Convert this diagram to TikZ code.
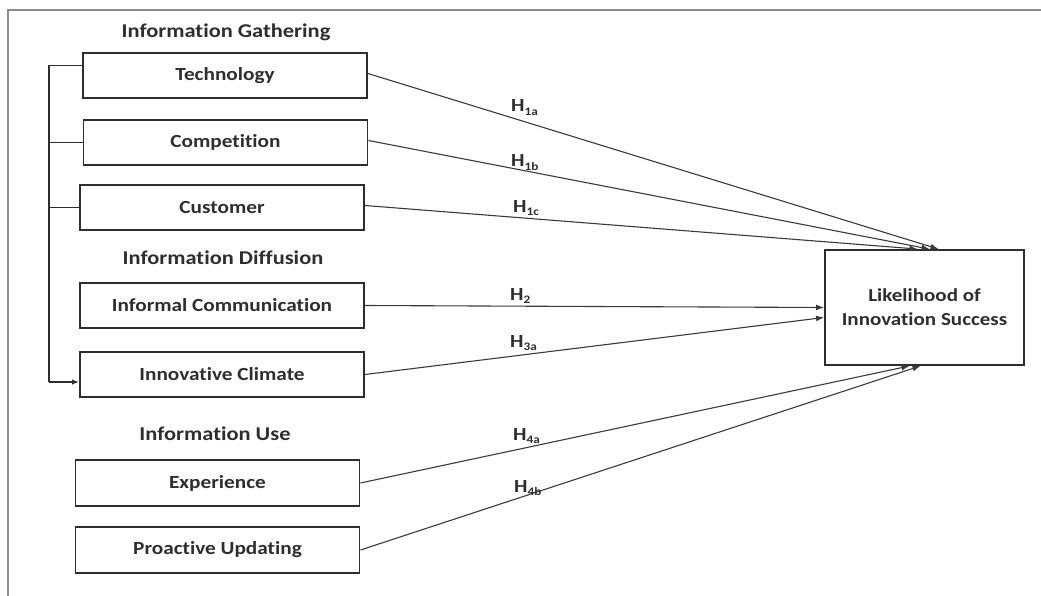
\documentclass[tikz,border=0pt]{standalone}
\usepackage{fontspec}
\setmainfont{Carlito}[FakeStretch=1.15, Ligatures=NoCommon]
\usetikzlibrary{arrows.meta}
\definecolor{ink}{HTML}{2E2E2E}
\definecolor{wire}{HTML}{3A3A3A}
\definecolor{framegray}{HTML}{8C8C8C}
\newcommand{\hsub}[1]{H\raisebox{-3.5pt}{\fontsize{11.5}{12}\selectfont #1}}
\begin{document}
\begin{tikzpicture}[x=1pt,y=-1pt,
  varbox/.style={draw=ink, line width=1.9pt, minimum width=284pt, minimum height=45pt,
    inner sep=0pt, font=\fontsize{18.5}{22}\selectfont\bfseries, text=ink},
  outbox/.style={draw=ink, line width=1.9pt, minimum width=199pt, minimum height=115pt,
    inner sep=0pt, align=center, font=\fontsize{18.3}{24}\selectfont\bfseries, text=ink},
  heading/.style={inner sep=0pt, font=\fontsize{19.5}{22}\selectfont\bfseries, text=ink},
  hyp/.style={inner sep=0pt, anchor=base west, font=\fontsize{18.5}{22}\selectfont\bfseries, text=ink},
  link/.style={draw=wire, line width=1.1pt, -{Latex[length=8pt,width=6pt]}},
  brace/.style={draw=ink, line width=1.8pt}]
\useasboundingbox (0,0) rectangle (1041,596);

% outer frame (top and left edges)
\draw[framegray, line width=2.6pt] (8,596) -- (8,10) -- (1041,10);

% group headings
\node[heading] (hgat) at (226,32) {Information Gathering};
\node[heading] (hdif) at (223,258) {Information Diffusion};
\node[heading] (huse) at (215,434) {Information Use};

% antecedent boxes
\node[varbox] (tech) at (225,75.5) {Technology};
\node[varbox] (comp) at (225.5,142.5) {Competition};
\node[varbox] (cust) at (222,207.5) {Customer};
\node[varbox] (info) at (222,305.5) {Informal Communication};
\node[varbox] (clim) at (222,374.5) {Innovative Climate};
\node[varbox, minimum height=46pt] (expe) at (217.5,483) {Experience};
\node[varbox, minimum height=46pt] (proa) at (217.5,550) {Proactive Updating};

% outcome
\node[outbox] (succ) at (924.5,307.5) {Likelihood of\\Innovation Success};

% bracket linking information gathering to the innovative climate
\coordinate (bt) at (49,65.5);
\coordinate (bb) at (49,382);
\draw[brace] ([yshift=10pt]tech.west) -- (bt) -- (bb);
\draw[brace, -{Latex[length=7pt,width=5.5pt]}] (bb) -- ([yshift=-7.5pt]clim.west);
\draw[brace] (comp.west) -- (comp.west -| bt);
\draw[brace] (cust.west) -- (cust.west -| bt);

% hypothesised paths
\draw[link] ([yshift=2pt]tech.east) -- ([xshift=14pt]succ.north);
\draw[link] ([yshift=2pt]comp.east) -- ([xshift=5pt]succ.north);
\draw[link] ([yshift=2pt]cust.east) -- ([xshift=-7pt]succ.north);
\draw[link] (info.east) -- ([yshift=0pt]succ.west);
\draw[link] (clim.east) -- ([yshift=-10pt]succ.west);
\draw[link] (expe.east) -- ([xshift=-15pt]succ.south);
\draw[link] (proa.east) -- ([xshift=-4pt]succ.south);

% path labels
\node[hyp] (h1a) at (511,112) {\hsub{1a}};
\node[hyp] (h1b) at (511,167) {\hsub{1b}};
\node[hyp] (h1c) at (513,212) {\hsub{1c}};
\node[hyp] (h2)  at (510,300) {\hsub{2}};
\node[hyp] (h3a) at (510,347) {\hsub{3a}};
\node[hyp] (h4a) at (513,440) {\hsub{4a}};
\node[hyp] (h4b) at (514,492) {\hsub{4b}};
\end{tikzpicture}
\end{document}
